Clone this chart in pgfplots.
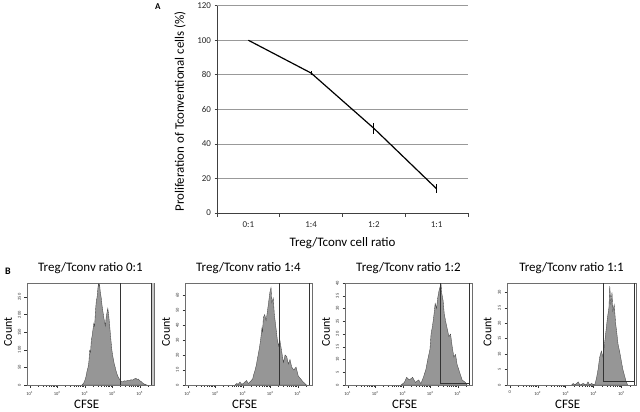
\documentclass[border=0pt]{standalone}
\usepackage{fontspec}
\setmainfont{Carlito}
\usepackage{pgfplots}
\pgfplotsset{compat=1.18}

\definecolor{histfill}{RGB}{150,150,150}
\definecolor{histline}{RGB}{70,70,70}
\definecolor{framec}{RGB}{110,110,110}

\pgfplotsset{
  cfse/.style={
    scale only axis, width=127bp, height=102bp, anchor=south west,
    xmin=0.9, xmax=5.52, ymin=0,
    axis line style={framec, line width=0.6pt},
    xtick={1,2,3,4,5},
    xticklabels={10\textsuperscript{1},10\textsuperscript{2},10\textsuperscript{3},10\textsuperscript{4},10\textsuperscript{5}},
    minor xtick={1.301,1.477,1.602,1.699,1.778,1.845,1.903,1.954,
                 2.301,2.477,2.602,2.699,2.778,2.845,2.903,2.954,
                 3.301,3.477,3.602,3.699,3.778,3.845,3.903,3.954,
                 4.301,4.477,4.602,4.699,4.778,4.845,4.903,4.954,5.301},
    xtick pos=bottom, ytick pos=left, tick align=outside,
    major tick length=2.5bp, minor tick length=1.6bp,
    tick style={black!80, line width=0.4pt},
    tick label style={font=\fontsize{4.5}{5}\selectfont, black!80},
    yticklabel style={rotate=90, anchor=south},
    xlabel={CFSE}, ylabel={Count},
    xlabel style={at={(axis description cs:0.47,-0.19)}, anchor=center, font=\fontsize{13}{13}\selectfont},
    ylabel style={at={(axis description cs:-0.15,0.52)}, anchor=center, font=\fontsize{12}{12}\selectfont},
    title style={at={(axis description cs:0.5,1)}, anchor=base, yshift=6bp, font=\fontsize{13}{13}\selectfont},
    /pgf/number format/assume math mode=true,
  },
  histo/.style={fill=histfill, draw=histline, line width=0.35pt},
  gate/.style={draw=black!80, line width=0.7pt},
}

\begin{document}
\begin{tikzpicture}
\useasboundingbox (0bp,0bp) rectangle (640bp,412bp);

% panel A
\begin{axis}[
  at={(217bp,199bp)}, anchor=south west, scale only axis,
  width=251bp, height=207.3bp,
  xmin=-0.5, xmax=3.5, ymin=0, ymax=120,
  axis x line=bottom, axis y line=left,
  axis line style={-, black!75, line width=0.7pt},
  xtick={0,1,2,3}, xticklabels={0:1,1:4,1:2,1:1},
  minor xtick={-0.5,0.5,1.5,2.5,3.5},
  ytick={0,20,...,120},
  tick align=outside, major tick length=2.5bp, minor tick length=4bp,
  major x tick style={draw=none},
  tick style={black!75, line width=0.6pt},
  ymajorgrids, major grid style={gray!80, line width=0.6pt},
  tick label style={font=\fontsize{9}{10}\selectfont, black!85},
  xticklabel style={yshift=-3bp},
  xlabel={Treg/Tconv cell ratio},
  ylabel={Proliferation of Tconventional cells (\%)},
  label style={font=\fontsize{13}{13}\selectfont},
  xlabel style={at={(axis description cs:0.5,-0.145)}, anchor=center},
  ylabel style={at={(axis description cs:-0.147,0.49)}, anchor=center},
  /pgf/number format/assume math mode=true,
]
\addplot[black, line width=1.2pt,
  error bars/.cd, y dir=both, y explicit, error mark=none,
  error bar style={line width=0.8pt}]
  coordinates {(0,100) +- (0,0) (1,81) +- (0,1) (2,49) +- (0,3) (3,14) +- (0,2.5)};
\end{axis}
\node[anchor=base west, font=\bfseries\fontsize{9}{9}\selectfont] at (151.5bp,402bp) {A};
\node[anchor=base west, font=\bfseries\fontsize{10}{10}\selectfont] at (1.5bp,137bp) {B};

% panel B, ratio 0:1
\begin{axis}[cfse, at={(27bp,27bp)}, ymax=290, ytick={0,50,...,250},
  title={Treg/Tconv ratio 0:1}]
\addplot[fill=black!22, draw=none] coordinates {(5.43,290) (5.52,290)} \closedcycle;
\addplot[histo] coordinates {
(2.90,0) (2.96,5) (3.00,12) (3.04,22) (3.08,38) (3.12,50) (3.15,65) (3.18,98)
(3.21,92) (3.24,128) (3.27,140) (3.30,158) (3.33,175) (3.36,168) (3.39,210)
(3.42,238) (3.45,250) (3.48,276) (3.50,288) (3.52,282) (3.54,286) (3.57,262)
(3.60,248) (3.63,226) (3.66,210) (3.69,194) (3.72,180) (3.75,168) (3.78,192)
(3.81,206) (3.84,218) (3.87,200) (3.90,176) (3.93,148) (3.96,122) (3.99,98)
(4.02,82) (4.05,70) (4.08,58) (4.11,50) (4.14,40) (4.18,30) (4.22,22) (4.27,16)
(4.32,10) (4.38,9) (4.44,12) (4.50,11) (4.56,13) (4.62,12) (4.68,15) (4.74,14)
(4.80,17) (4.86,19) (4.90,16) (4.95,17) (5.00,12) (5.05,10) (5.10,6) (5.16,3)
(5.22,1) (5.26,0)} \closedcycle;
\addplot[gate] coordinates {(4.29,0) (4.29,290)};
\addplot[gate] coordinates {(5.42,0) (5.42,290)};
\end{axis}

% ratio 1:4
\begin{axis}[cfse, at={(185bp,27bp)}, ymax=68, ytick={0,10,...,60},
  title={Treg/Tconv ratio 1:4}]
\addplot[histo] coordinates {
(2.72,0) (2.78,1) (2.84,0.5) (2.90,2) (2.96,0.5) (3.02,1) (3.08,2) (3.14,3)
(3.20,1) (3.26,2) (3.31,3) (3.36,4) (3.40,7) (3.45,10) (3.49,13) (3.53,17)
(3.57,21) (3.60,24) (3.65,30) (3.70,38) (3.72,35) (3.75,45) (3.80,47) (3.85,43)
(3.89,48) (3.94,55) (3.99,62) (4.03,65) (4.06,55) (4.11,58) (4.15,47) (4.21,38)
(4.26,30) (4.31,26) (4.35,30) (4.42,22) (4.48,15) (4.54,20) (4.60,19) (4.66,14)
(4.72,17) (4.78,12) (4.86,10) (4.94,12) (5.02,6) (5.11,4) (5.20,2) (5.32,0)}
\closedcycle;
\addplot[gate] coordinates {(4.33,0) (4.33,68)};
\addplot[gate] coordinates {(5.42,0) (5.42,68)};
\end{axis}

% ratio 1:2
\begin{axis}[cfse, at={(345bp,27bp)}, ymax=40, ytick={0,5,...,40},
  title={Treg/Tconv ratio 1:2}]
\addplot[histo] coordinates {
(2.94,0) (3.06,1) (3.14,3) (3.24,2) (3.36,3) (3.46,1) (3.58,2) (3.66,0.5)
(3.75,3) (3.84,6) (3.91,10) (3.99,14) (4.03,20) (4.08,23) (4.13,27) (4.18,32)
(4.23,30) (4.27,34) (4.32,37) (4.37,39) (4.39,40) (4.42,36) (4.47,33) (4.51,28)
(4.56,25) (4.62,22) (4.68,19) (4.74,20) (4.80,15) (4.86,11) (4.92,12) (4.98,8)
(5.07,5) (5.16,2) (5.28,1) (5.34,0)} \closedcycle;
\addplot[gate] coordinates {(4.36,40) (4.36,0.66) (5.42,0.66)};
\addplot[gate] coordinates {(5.42,0) (5.42,40)};
\end{axis}

% ratio 1:1
\begin{axis}[cfse, at={(507bp,27bp)}, width=129bp, ymax=33, ytick={0,5,...,30},
  xticklabels={0,10\textsuperscript{2},10\textsuperscript{3},10\textsuperscript{4},10\textsuperscript{5}},
  title={Treg/Tconv ratio 1:1}]
\addplot[histo] coordinates {
(3.21,0) (3.27,0.5) (3.33,0) (3.45,1) (3.51,0) (3.63,0.5) (3.74,0) (3.80,1)
(3.86,0) (3.92,0.5) (4.04,0) (4.10,2) (4.16,5) (4.22,9) (4.28,11) (4.34,9)
(4.40,14) (4.45,18) (4.50,22) (4.55,25) (4.58,32) (4.62,26) (4.66,30) (4.69,24)
(4.74,26) (4.79,20) (4.83,17) (4.88,13) (4.93,11) (4.99,8) (5.05,5) (5.11,3)
(5.17,1) (5.22,0)} \closedcycle;
\addplot[gate] coordinates {(4.36,33) (4.36,1.3) (5.46,1.3)};
\addplot[gate] coordinates {(5.46,0) (5.46,33)};
\end{axis}
\end{tikzpicture}
\end{document}
